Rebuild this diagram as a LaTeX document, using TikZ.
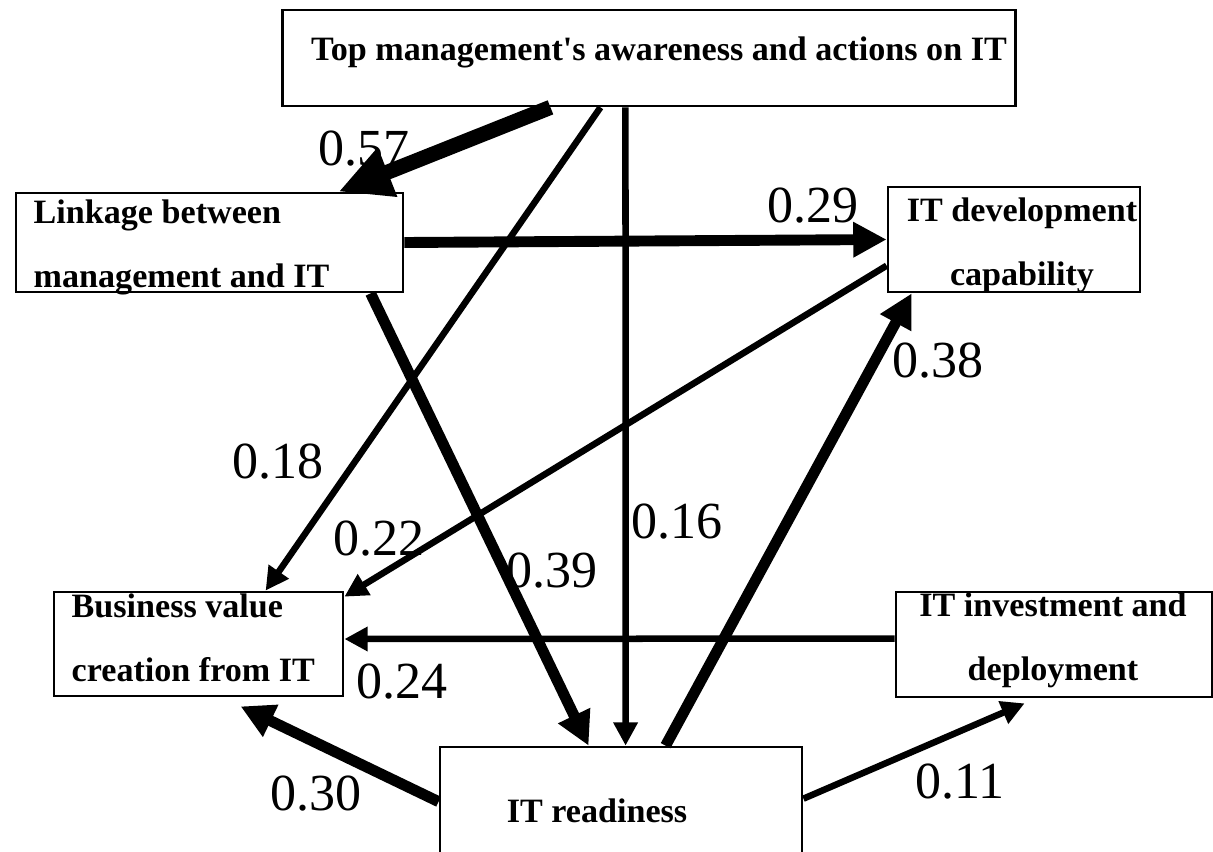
\documentclass[tikz,border=0pt]{standalone}
\usepackage{fontspec}
\setmainfont{Liberation Serif}
\usetikzlibrary{arrows.meta, calc}
\tikzset{
    pathdiagram/.style={x=0.01cm, y=-0.01cm},
    factor/.style={draw, line width=0.75pt, inner sep=0pt},
    factortext/.style={inner sep=0pt, font=\bfseries\fontsize{9.7pt}{18.2pt}\selectfont},
    coef/.style={inner sep=0pt, anchor=base, font=\fontsize{14.8pt}{16pt}\selectfont},
    % three arrow weights, thicker for the stronger paths
    thinpath/.style={line width=1.85pt, -{Triangle[length=6.6pt, width=6.6pt]}},
    thickpath/.style={line width=3.1pt, -{Triangle[length=9.5pt, width=9.5pt]}},
    heavypath/.style={line width=4.3pt, -{Triangle[length=15pt, width=14pt]}},
}
\begin{document}
\begin{tikzpicture}[pathdiagram]
    \useasboundingbox (0,0) rectangle (1213,851);
    \clip (0,0) rectangle (1213,851);

    \node[factor, minimum width=7.32cm, minimum height=0.96cm] (tm)    at (649,58)      {};
    \node[factor, minimum width=3.87cm, minimum height=0.99cm] (link)  at (209.5,242.5) {};
    \node[factor, minimum width=2.52cm, minimum height=1.05cm] (dev)   at (1014,239.5)  {};
    \node[factor, minimum width=2.89cm, minimum height=1.04cm] (bv)    at (198.5,644)   {};
    \node[factor, minimum width=3.16cm, minimum height=1.05cm] (inv)   at (1054,644.5)  {};
    \node[factor, minimum width=3.62cm, minimum height=1.20cm] (ready) at (621,807)     {};

    % multi-line texts sit on the baseline of their last line
    \node[factortext, anchor=base]                    (tm-txt)    at (659,60)   {Top management\textquotesingle s awareness and actions on IT};
    \node[factortext, anchor=base west, align=left]   (link-txt)  at (33,287)   {Linkage between\\management and IT};
    \node[factortext, anchor=base, align=center]      (dev-txt)   at (1022,285) {IT development\\capability};
    \node[factortext, anchor=base west, align=left]   (bv-txt)    at (71,681)   {Business value\\creation from IT};
    \node[factortext, anchor=base, align=center]      (inv-txt)   at (1053,680) {IT investment and\\deployment};
    \node[factortext, anchor=base]                    (ready-txt) at (597,822)  {IT readiness};

    \draw[heavypath] ($(tm.south west)+(269,0)$) -- ($(link.north west)+(324,0)$);
    \draw[thinpath]  ($(tm.south west)+(319,0)$) -- ($(bv.north west)+(213,0)$);
    \draw[thinpath]  ($(tm.south west)+(344,0)$) -- ($(ready.north west)+(187,0)$);
    \draw[thickpath] (link.east) -- (dev.west);
    \draw[thickpath] ($(link.south west)+(356,0)$) -- ($(ready.north west)+(150,0)$);
    \draw[thinpath]  ($(dev.north west)+(0,80)$) -- ($(bv.north east)+(0,6)$);
    \draw[thinpath]  ($(inv.west)+(0,-6)$) -- ($(bv.east)+(0,-5)$);
    \draw[thickpath] ($(ready.north west)+(0,56)$) -- ($(bv.south west)+(188,9)$);
    \draw[thickpath] ($(ready.north west)+(227,0)$) -- ($(dev.south west)+(25,0)$);
    \draw[thinpath]  ($(ready.north east)+(0,53)$) -- ($(inv.south west)+(130,5)$);

    \node[coef] (c57) at (364,165) {0.57};
    \node[coef] (c29) at (813,222) {0.29};
    \node[coef] (c38) at (938,377) {0.38};
    \node[coef] (c18) at (278,478) {0.18};
    \node[coef] (c16) at (677,538) {0.16};
    \node[coef] (c22) at (379,555) {0.22};
    \node[coef] (c39) at (552,587) {0.39};
    \node[coef] (c24) at (402,698) {0.24};
    \node[coef] (c11) at (960,798) {0.11};
    \node[coef] (c30) at (316,810) {0.30};
\end{tikzpicture}
\end{document}
